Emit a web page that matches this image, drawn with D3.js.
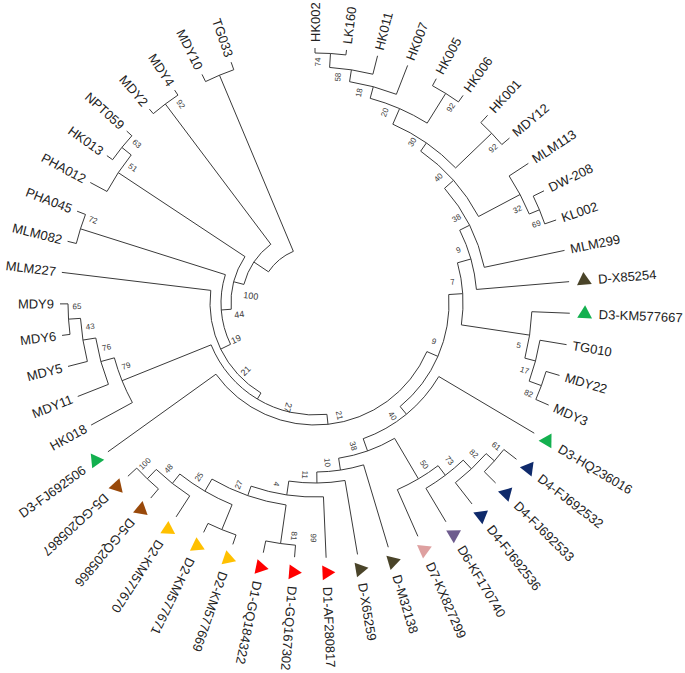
<!DOCTYPE html>
<html>
<head>
<meta charset="utf-8">
<script src="https://cdn.jsdelivr.net/npm/d3@7"></script>
<style>
  body { margin: 0; background: #fff; }
  svg { display: block; }
  text { -webkit-font-smoothing: antialiased; }
</style>
</head>
<body>
<svg width="685" height="673"></svg>
<script>
// tip labels, clockwise from the top
const leafNames = [
  "HK002", "LK160", "HK011", "HK007", "HK005", "HK006", "HK001", "MDY12",
  "MLM113", "DW-208", "KL002", "MLM299", "D-X85254", "D3-KM577667", "TG010",
  "MDY22", "MDY3", "D3-HQ236016", "D4-FJ692532", "D4-FJ692533", "D4-FJ692536",
  "D6-KF170740", "D7-KX827299", "D-M32138", "D-X65259", "D1-AF280817",
  "D1-GQ167302", "D1-GQ184322", "D2-KM577669", "D2-KM577671", "D2-KM577670",
  "D5-GQ205866", "D5-GQ205867", "D3-FJ692506", "HK018", "MDY11", "MDY5",
  "MDY6", "MDY9", "MLM227", "MLM082", "PHA045", "PHA012", "HK013", "NPT059",
  "MDY2", "MDY4", "MDY10", "TG033"
];

// reference strains get a coloured triangle
const refGroup = {
  "D-X85254": "D", "D-M32138": "D", "D-X65259": "D",
  "D1-AF280817": "D1", "D1-GQ167302": "D1", "D1-GQ184322": "D1",
  "D2-KM577669": "D2", "D2-KM577671": "D2", "D2-KM577670": "D2",
  "D3-KM577667": "D3", "D3-HQ236016": "D3", "D3-FJ692506": "D3",
  "D4-FJ692532": "D4", "D4-FJ692533": "D4", "D4-FJ692536": "D4",
  "D5-GQ205866": "D5", "D5-GQ205867": "D5",
  "D6-KF170740": "D6", "D7-KX827299": "D7"
};
const groupColor = {
  "D": "#4a4429", "D1": "#ff0000", "D2": "#ffc000", "D3": "#13b04f",
  "D4": "#0f2a6b", "D5": "#99490a", "D6": "#6e5c8e", "D7": "#dea0a0"
};

// internal nodes: id, children (clockwise), distance from root, bootstrap
const nodeTable = [
  ["T",   ["Z", "nE"], 0, null],
  ["Z",   ["Y", "n92c"], 0.0175, 100],
  ["Y",   ["U", "n51"], 0.028, 44],
  ["U",   ["S", "n72"], 0.038, 19],
  ["S",   ["P", "MLM227"], 0.049, 21],
  ["P",   ["R21", "n79"], 0.056, 27],
  ["R21", ["n9L", "D3-FJ692506"], 0.066, 21],
  ["n9L", ["n7", "n40L"], 0.078, 9],
  ["n7",  ["n9u", "n5"], 0.092, 7],
  ["n9u", ["n38u", "D-X85254"], 0.106, 9],
  ["n38u", ["n40u", "MLM299"], 0.117, 38],
  ["n40u", ["n30", "n32"], 0.129, 40],
  ["n30", ["n20", "n92b"], 0.139, 30],
  ["n20", ["n18", "n92a"], 0.156, 20],
  ["n18", ["n58", "HK007"], 0.168, 18],
  ["n58", ["n74", "HK011"], 0.180, 58],
  ["n74", ["HK002", "LK160"], 0.194, 74],
  ["n92a", ["HK005", "HK006"], 0.191, 92],
  ["n92b", ["HK001", "MDY12"], 0.189, 92],
  ["n32", ["MLM113", "n69"], 0.176, 32],
  ["n69", ["DW-208", "KL002"], 0.187, 69],
  ["n5",  ["D3-KM577667", "n17"], 0.161, 5],
  ["n17", ["TG010", "n82a"], 0.172, 17],
  ["n82a", ["MDY22", "MDY3"], 0.185, 82],
  ["n40L", ["D3-HQ236016", "n38b"], 0.088, 40],
  ["n38b", ["n50", "n10"], 0.101, 38],
  ["n50", ["n73", "D7-KX827299"], 0.148, 50],
  ["n73", ["n82c", "D6-KF170740"], 0.160, 73],
  ["n82c", ["n61", "D4-FJ692536"], 0.172, 82],
  ["n61", ["D4-FJ692532", "D4-FJ692533"], 0.183, 61],
  ["n10", ["D-M32138", "n11"], 0.113, 10],
  ["n11", ["D-X65259", "n4"], 0.124, 11],
  ["n4",  ["D1-AF280817", "n27"], 0.138, 4],
  ["n27", ["n81", "n25"], 0.148, 27],
  ["n81", ["D1-GQ167302", "D1-GQ184322"], 0.187, 81],
  ["n25", ["nD2", "n48"], 0.162, 25],
  ["nD2", ["D2-KM577669", "D2-KM577671"], 0.189, null],
  ["n48", ["D2-KM577670", "n100"], 0.174, 48],
  ["n100", ["D5-GQ205866", "D5-GQ205867"], 0.187, 100],
  ["n79", ["HK018", "n76"], 0.152, 79],
  ["n76", ["MDY11", "n43"], 0.166, 76],
  ["n43", ["MDY5", "n65"], 0.179, 43],
  ["n65", ["MDY6", "MDY9"], 0.191, 65],
  ["n72", ["MLM082", "PHA045"], 0.190, 72],
  ["n51", ["PHA012", "n63"], 0.180, 51],
  ["n63", ["HK013", "NPT059"], 0.192, 63],
  ["n92c", ["MDY2", "MDY4"], 0.193, 92],
  ["nE",  ["MDY10", "TG033"], 0.191, null]
];
const tipDistance = 0.199;
// support value printed on a terminal branch
const branchLabels = [["D1-AF280817", 99]];

var svg = d3.select("svg"),
    cx = 315, cy = 303;

var lineColor = "#3a3a3a",
    font = "'Liberation Sans', Arial, sans-serif";

// build the tree from the table
var byId = new Map(nodeTable.map(d => [d[0], d]));
function build(id) {
  var row = byId.get(id);
  if (!row) return {name: id, dist: tipDistance};
  return {name: id, dist: row[2], boot: row[3], children: row[1].map(build)};
}
var root = d3.hierarchy(build("T"));

// angle (deg, clockwise from top) and radius scales
var angle = d3.scaleLinear().domain([0, leafNames.length - 1]).range([0, 340.8]);
var radius = d3.scaleLinear().domain([0, tipDistance]).range([56, 255]);

root.leaves().forEach(d => d.theta = angle(leafNames.indexOf(d.data.name)));
root.eachAfter(d => {
  if (d.children) d.theta = (d.children[0].theta + d.children[d.children.length - 1].theta) / 2;
});
root.each(d => d.r = radius(d.data.dist));

function pt(theta, r) {
  var a = theta * Math.PI / 180;
  return [cx + r * Math.sin(a), cy - r * Math.cos(a)];
}

var g = svg.append("g");

// radial branches
g.append("g")
  .selectAll("line")
  .data(root.descendants().filter(d => d.parent))
  .enter().append("line")
    .attr("x1", d => pt(d.theta, d.parent.r)[0])
    .attr("y1", d => pt(d.theta, d.parent.r)[1])
    .attr("x2", d => pt(d.theta, d.r)[0])
    .attr("y2", d => pt(d.theta, d.r)[1])
    .attr("stroke", lineColor)
    .attr("stroke-width", 1);

// arcs joining the children of each node
g.append("g")
  .selectAll("path")
  .data(root.descendants().filter(d => d.children))
  .enter().append("path")
    .attr("d", d => {
      var p = d3.path(),
          a0 = (d.children[0].theta - 90) * Math.PI / 180,
          a1 = (d.children[d.children.length - 1].theta - 90) * Math.PI / 180;
      p.arc(cx, cy, d.r, a0, a1);
      return p.toString();
    })
    .attr("fill", "none")
    .attr("stroke", lineColor)
    .attr("stroke-width", 1);

// bootstrap values, placed beside the branch on the side away from the sibling
function bootPos(d, r, side, gap) {
  var th = d.theta + side * (gap / r) * 180 / Math.PI;
  var p = pt(th, r);
  var rot = th > 195 ? th + 90 : th - 90;
  return "translate(" + p[0] + "," + p[1] + ") rotate(" + rot + ")";
}

var boots = root.descendants().filter(d => d.parent && d.data.boot != null);
g.append("g")
  .selectAll("text")
  .data(boots)
  .enter().append("text")
    .attr("transform", d => {
      var side = d.parent.children[0] === d ? -1 : 1;
      var r = Math.max(d.r - 9, d.parent.r + 3);
      // the labels of the deepest nodes sit further along the parent arc
      var gap = d.r < 115 ? 31 : 12;
      return bootPos(d, r, side, gap);
    })
    .attr("text-anchor", "middle")
    .attr("dominant-baseline", "central")
    .attr("font-family", font)
    .attr("font-size", d => d.r < 115 ? 9 : 8)
    .attr("fill", "#383838")
    .text(d => d.data.boot);

var leafByName = new Map(root.leaves().map(d => [d.data.name, d]));
g.append("g")
  .selectAll("text")
  .data(branchLabels)
  .enter().append("text")
    .attr("transform", d => {
      var leaf = leafByName.get(d[0]);
      return bootPos(leaf, leaf.r - 20, 1, 12);
    })
    .attr("text-anchor", "middle")
    .attr("dominant-baseline", "central")
    .attr("font-family", font)
    .attr("font-size", 8)
    .attr("fill", "#383838")
    .text(d => d[1]);

// tips: optional triangle and the name
var tipR = radius(tipDistance);
var tips = g.append("g")
  .selectAll("g")
  .data(root.leaves())
  .enter().append("g");

function flipped(th) { return th > 230; }

tips.filter(d => refGroup[d.data.name])
  .append("path")
    .attr("d", d3.symbol(d3.symbolTriangle, 95))
    .attr("transform", d => {
      var p = pt(d.theta, tipR + 15);
      var rot = flipped(d.theta) ? d.theta + 90 : d.theta - 90;
      return "translate(" + p[0] + "," + p[1] + ") rotate(" + rot + ")";
    })
    .attr("fill", d => groupColor[refGroup[d.data.name]]);

tips.append("text")
    .attr("transform", d => {
      var off = refGroup[d.data.name] ? 29 : 6;
      var p = pt(d.theta, tipR + off);
      var rot = flipped(d.theta) ? d.theta + 90 : d.theta - 90;
      return "translate(" + p[0] + "," + p[1] + ") rotate(" + rot + ")";
    })
    .attr("text-anchor", d => flipped(d.theta) ? "end" : "start")
    .attr("dominant-baseline", "central")
    .attr("font-family", font)
    .attr("font-size", 13)
    .attr("fill", "#222")
    .text(d => d.data.name);
</script>
</body>
</html>
